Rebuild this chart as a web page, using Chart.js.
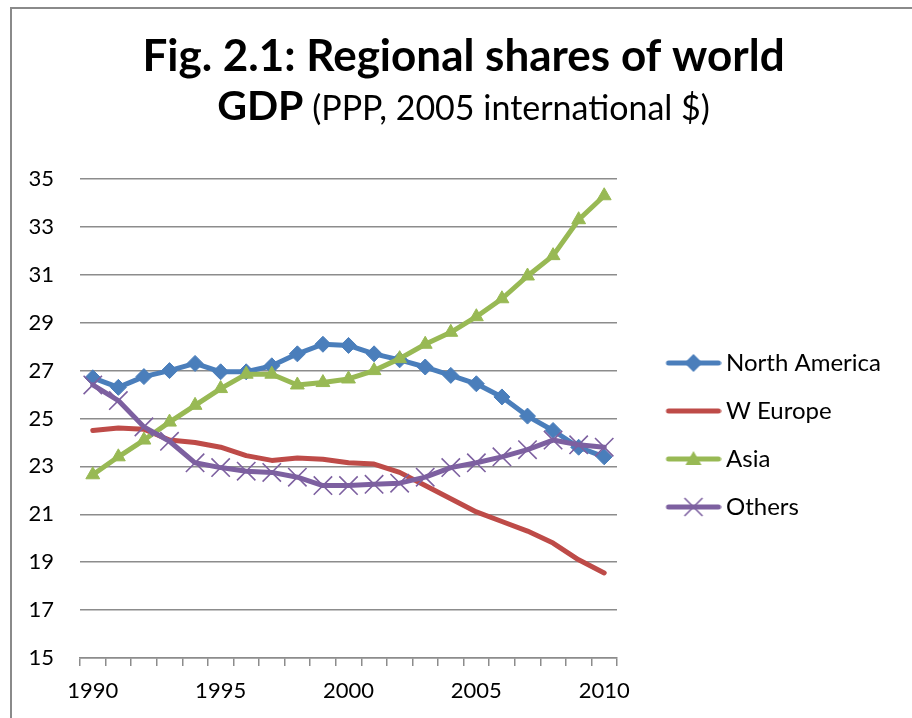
<!DOCTYPE html>
<html>
<head>
<meta charset="utf-8">
<title>Regional shares of world GDP</title>
<script src="https://cdn.jsdelivr.net/npm/chart.js@4.4.1/dist/chart.umd.min.js"></script>
<style>
    html, body { margin: 0; padding: 0; background: #fff; overflow: hidden; }
    #frame {
        position: absolute;
        left: 10px;
        top: 7px;
        width: 903px;
        height: 720px;
        border: 2px solid #8a8a8a;
        background: #fff;
    }
    canvas { display: block; }
</style>
</head>
<body>
<div id="frame"><canvas id="chart" width="903" height="720"></canvas></div>
<script>
// Chart data
const years = ['1990', '1991', '1992', '1993', '1994', '1995', '1996', '1997', '1998', '1999', '2000',
               '2001', '2002', '2003', '2004', '2005', '2006', '2007', '2008', '2009', '2010'];
const seriesNames = ['North America', 'W Europe', 'Asia', 'Others'];
const northAmerica = [26.7, 26.3, 26.75, 27.0, 27.3, 26.95, 26.95, 27.2, 27.7, 28.1, 28.05,
                      27.7, 27.45, 27.15, 26.8, 26.45, 25.9, 25.1, 24.5, 23.8, 23.4];
const wEurope = [24.5, 24.6, 24.55, 24.1, 24.0, 23.8, 23.45, 23.25, 23.35, 23.3, 23.15,
                 23.1, 22.75, 22.2, 21.65, 21.1, 20.7, 20.3, 19.8, 19.1, 18.55];
const asia = [22.65, 23.4, 24.1, 24.85, 25.55, 26.25, 26.85, 26.85, 26.4, 26.5, 26.65,
              27.0, 27.5, 28.1, 28.6, 29.25, 30.0, 30.95, 31.8, 33.3, 34.3];
const others = [26.4, 25.75, 24.65, 24.05, 23.15, 22.95, 22.8, 22.75, 22.55, 22.2, 22.2,
                22.25, 22.3, 22.55, 22.95, 23.15, 23.4, 23.7, 24.1, 23.9, 23.8];
const yTicks = { min: 15, max: 35, step: 2 };
const titleText = 'Fig. 2.1: Regional shares of world';
const subtitleBold = 'GDP';
const subtitleRest = ' (PPP, 2005 international $)';

const FONT = 'Lato, "Open Sans", sans-serif';
const colors = {
    na: '#4a7ebb',
    we: '#be4b48',
    asia: '#98b954',
    others: '#7d60a0',
    grid: '#8c8c8c'
};

Chart.defaults.font.family = FONT;
Chart.defaults.color = '#000';

/**
 * Small legend sample: a line with the series marker in the middle
 */
function makeLegendIcon(color, marker) {
    const c = document.createElement('canvas');
    c.width = 88;
    c.height = 24;
    const g = c.getContext('2d');
    g.strokeStyle = color;
    g.fillStyle = color;
    g.lineCap = 'round';
    g.lineWidth = 5;
    g.beginPath();
    g.moveTo(35, 12);
    g.lineTo(85, 12);
    g.stroke();
    const mx = 60, my = 12;
    if (marker === 'diamond') {
        g.beginPath();
        g.moveTo(mx, my - 9);
        g.lineTo(mx + 9, my);
        g.lineTo(mx, my + 9);
        g.lineTo(mx - 9, my);
        g.closePath();
        g.fill();
    } else if (marker === 'triangle') {
        g.beginPath();
        g.moveTo(mx, my - 8);
        g.lineTo(mx + 8, my + 6);
        g.lineTo(mx - 8, my + 6);
        g.closePath();
        g.fill();
    } else if (marker === 'cross') {
        g.lineWidth = 1.6;
        g.lineCap = 'butt';
        g.beginPath();
        g.moveTo(mx - 9, my - 9);
        g.lineTo(mx + 9, my + 9);
        g.moveTo(mx + 9, my - 9);
        g.lineTo(mx - 9, my + 9);
        g.stroke();
    }
    return c;
}

const legendIcons = [
    makeLegendIcon(colors.na, 'diamond'),
    makeLegendIcon(colors.we, null),
    makeLegendIcon(colors.asia, 'triangle'),
    makeLegendIcon(colors.others, 'cross')
];

// legend geometry: padding + sample box + half font + text + 10
const legendFontSize = 24;
const legendPadding = 24;
const legendBoxWidth = 73;
const plotRight = 605;
const plotTop = 170;
const measureCtx = document.createElement('canvas').getContext('2d');
measureCtx.font = `${legendFontSize}px ${FONT}`;
const longestLabel = Math.max(...seriesNames.map(n => measureCtx.measureText(n).width));
const legendWidth = legendPadding + legendBoxWidth + legendFontSize / 2 + longestLabel + 10;
const rightPadding = Math.max(0, 903 - plotRight - legendWidth);
// first legend row sits at y = 354 in the canvas
const legendOffset = 354 - plotTop - legendPadding - legendFontSize / 2 - 12;

// Two-line figure title with mixed weights on the second line
const figureTitle = {
    id: 'figureTitle',
    afterDraw(chart) {
        const ctx = chart.ctx;
        const cx = chart.width / 2;
        ctx.save();
        ctx.fillStyle = '#000';
        ctx.textBaseline = 'alphabetic';
        ctx.textAlign = 'center';
        ctx.font = `bold 44px ${FONT}`;
        ctx.fillText(titleText, cx, 62);

        ctx.textAlign = 'left';
        ctx.font = `bold 41px ${FONT}`;
        const w1 = ctx.measureText(subtitleBold).width;
        ctx.font = `34px ${FONT}`;
        const w2 = ctx.measureText(subtitleRest).width;
        const x0 = cx - (w1 + w2) / 2;
        ctx.font = `bold 41px ${FONT}`;
        ctx.fillText(subtitleBold, x0, 111);
        ctx.font = `34px ${FONT}`;
        ctx.fillText(subtitleRest, x0 + w1, 111);
        ctx.restore();
    }
};

const ctx = document.getElementById('chart').getContext('2d');
new Chart(ctx, {
    type: 'line',
    data: {
        labels: years,
        datasets: [{
            label: seriesNames[0],
            data: northAmerica,
            borderColor: colors.na,
            backgroundColor: colors.na,
            borderWidth: 5,
            pointStyle: 'rectRot',
            pointRadius: 8,
            pointBorderWidth: 1,
            order: 4
        }, {
            label: seriesNames[1],
            data: wEurope,
            borderColor: colors.we,
            backgroundColor: colors.we,
            borderWidth: 5,
            pointRadius: 0,
            order: 3
        }, {
            label: seriesNames[2],
            data: asia,
            borderColor: colors.asia,
            backgroundColor: colors.asia,
            borderWidth: 5,
            pointStyle: 'triangle',
            pointRadius: 8,
            pointBorderWidth: 1,
            order: 2
        }, {
            label: seriesNames[3],
            data: others,
            borderColor: colors.others,
            backgroundColor: colors.others,
            borderWidth: 5,
            pointStyle: 'crossRot',
            pointRadius: 13,
            pointBorderWidth: 1.6,
            order: 1
        }]
    },
    options: {
        responsive: false,
        animation: false,
        devicePixelRatio: 1,
        layout: {
            padding: { top: plotTop, right: rightPadding, bottom: 0, left: 0 }
        },
        plugins: {
            title: { display: false },
            tooltip: { enabled: false },
            legend: {
                position: 'right',
                align: 'start',
                maxWidth: 400,
                // empty title is only a spacer pushing the rows down
                title: { display: true, text: '', font: { size: 10 }, padding: { top: legendOffset, bottom: 0 } },
                labels: {
                    usePointStyle: true,
                    pointStyleWidth: legendBoxWidth,
                    padding: legendPadding,
                    color: '#000',
                    font: { size: legendFontSize },
                    sort: (a, b) => a.datasetIndex - b.datasetIndex,
                    generateLabels(chart) {
                        const items = Chart.defaults.plugins.legend.labels.generateLabels(chart);
                        items.forEach(item => { item.pointStyle = legendIcons[item.datasetIndex]; });
                        return items;
                    }
                }
            }
        },
        elements: {
            line: { tension: 0, borderCapStyle: 'round', borderJoinStyle: 'round' }
        },
        scales: {
            x: {
                type: 'category',
                offset: true,
                afterFit: (scale) => { scale.height = 71; },
                grid: {
                    offset: true,
                    drawOnChartArea: false,
                    drawTicks: true,
                    tickLength: 8,
                    color: colors.grid,
                    lineWidth: 1.5
                },
                border: { display: true, color: colors.grid, width: 1.5 },
                ticks: {
                    autoSkip: false,
                    maxRotation: 0,
                    minRotation: 0,
                    padding: 12,
                    color: '#000',
                    font: { size: 22 },
                    callback: (val, idx) => (Number(years[idx]) % 5 === 0 ? years[idx] : '')
                }
            },
            y: {
                min: yTicks.min,
                max: yTicks.max,
                afterFit: (scale) => { scale.width = 68; },
                grid: {
                    drawTicks: false,
                    color: colors.grid,
                    lineWidth: 1.5
                },
                border: { display: false },
                ticks: {
                    stepSize: yTicks.step,
                    padding: 26,
                    color: '#000',
                    font: { size: 22 }
                }
            }
        }
    },
    plugins: [figureTitle]
});
</script>
</body>
</html>
